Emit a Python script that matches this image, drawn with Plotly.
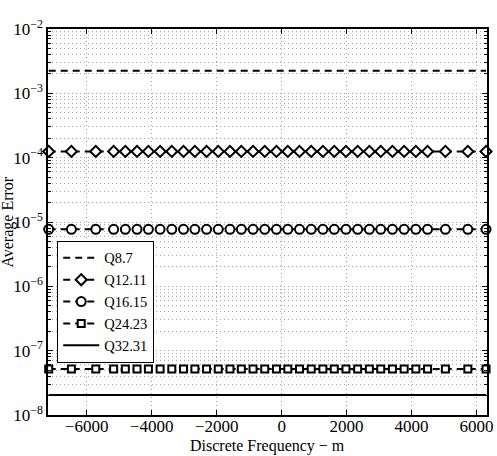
import plotly.graph_objects as go

# Discrete frequency sample points (where markers are drawn)
freq_m = [-7168, -6470, -5720, -5170, -4810, -4450, -4100, -3740, -3380, -3020,
          -2670, -2310, -1950, -1590, -1240, -880, -520, -160, 190, 550, 910,
          1270, 1620, 1980, 2340, 2700, 3050, 3410, 3770, 4130, 4490, 5040,
          5730, 6290]

series_names = ["Q8.7", "Q12.11", "Q16.15", "Q24.23", "Q32.31"]
series_error = [2.25e-3, 1.25e-4, 7.7e-6, 5.2e-8, 2.05e-8]
series_symbol = [None, "diamond", "circle", "square", None]
series_dash = ["7px,5px", "7px,5px", "7px,5px", "7px,5px", "solid"]
marker_size = [0, 8.5, 9, 7, 0]

y_tick_vals = [1e-8, 1e-7, 1e-6, 1e-5, 1e-4, 1e-3, 1e-2]
y_tick_text = ["10<sup>−8</sup>", "10<sup>−7</sup>", "10<sup>−6</sup>", "10<sup>−5</sup>",
               "10<sup>−4</sup>", "10<sup>−3</sup>", "10<sup>−2</sup>"]
x_tick_vals = [-6000, -4000, -2000, 0, 2000, 4000, 6000]
x_tick_text = ["−6000", "−4000", "−2000", "0", "2000", "4000", "6000"]
x_title = "Discrete Frequency − m"
y_title = "Average Error"

minor_vals = [m * 10.0 ** e for e in range(-8, -2) for m in range(2, 10)]

FONT = "Liberation Serif"
GRID = "#a8a8a8"
GDASH = "1px,3px"

fig = go.Figure()
for name, err, sym, dash, ms in zip(series_names, series_error, series_symbol,
                                     series_dash, marker_size):
    kw = {}
    if sym:
        mode = "lines+markers"
        kw["marker"] = dict(symbol=sym, size=ms, color="white",
                            line=dict(color="black", width=2))
    else:
        mode = "lines"
    fig.add_trace(go.Scatter(
        x=freq_m, y=[err] * len(freq_m), name=name, mode=mode,
        line=dict(color="black", width=2, dash=dash),
        cliponaxis=False, **kw))

fig.update_layout(
    width=497, height=456,
    margin=dict(l=48, r=10, t=29, b=41),
    paper_bgcolor="white", plot_bgcolor="white",
    font=dict(family=FONT, size=17, color="black"),
    showlegend=True,
    legend=dict(x=0.021, y=0.451, xanchor="left", yanchor="top",
                bgcolor="white", bordercolor="black", borderwidth=1,
                font=dict(family=FONT, size=14.5, color="black"),
                itemwidth=36, tracegroupgap=0),
    annotations=[
        dict(text=x_title, xref="paper", yref="paper", x=0.5, y=-0.08,
             xanchor="center", yanchor="middle", showarrow=False,
             font=dict(family=FONT, size=16, color="black")),
        dict(text=y_title, xref="paper", yref="paper", x=-0.092, y=0.5,
             xanchor="center", yanchor="middle", showarrow=False, textangle=-90,
             font=dict(family=FONT, size=16, color="black")),
    ],
)

fig.update_xaxes(
    range=[-7190, 6320], tickvals=x_tick_vals, ticktext=x_tick_text,
    ticks="inside", ticklen=5, tickcolor="black", tickwidth=1,
    showline=True, linecolor="black", linewidth=1.5, mirror="allticks",
    showgrid=True, gridcolor=GRID, griddash=GDASH, gridwidth=1,
    zeroline=False, automargin=False, ticklabelstandoff=-5,
    tickfont=dict(family=FONT, size=17),
)

fig.update_yaxes(
    type="log", range=[-8, -2], tickvals=y_tick_vals, ticktext=y_tick_text,
    ticks="inside", ticklen=5, tickcolor="black", tickwidth=1,
    showline=True, linecolor="black", linewidth=1.5, mirror="allticks",
    showgrid=True, gridcolor=GRID, griddash=GDASH, gridwidth=1,
    minor=dict(tickvals=minor_vals, ticks="inside", ticklen=3,
               tickcolor="black", showgrid=True, gridcolor=GRID,
               griddash=GDASH, gridwidth=1),
    zeroline=False, automargin=False,
    tickfont=dict(family=FONT, size=17),
)

fig.write_html("out.html")
